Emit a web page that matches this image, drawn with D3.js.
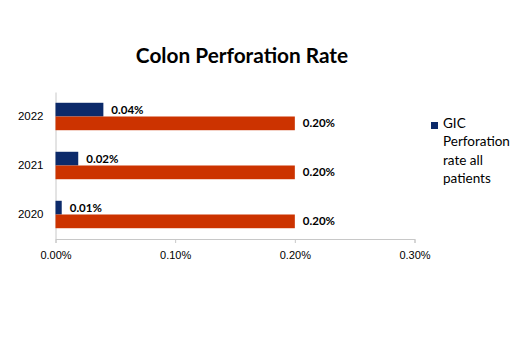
<!DOCTYPE html>
<html>
<head>
<meta charset="utf-8">
<script src="https://cdn.jsdelivr.net/npm/d3@7"></script>
<style>
  body { margin: 0; background: #fff; }
  svg { font-family: Lato, "Open Sans", sans-serif; }
  .tick text { fill: #000; }
</style>
</head>
<body>
<svg width="522" height="353"></svg>
<script>
const years = ["2022", "2021", "2020"];
const gicRate = [0.04, 0.019, 0.0052];
const allRate = [0.2, 0.2, 0.2];
const xTicks = [0, 0.1, 0.2, 0.3];
const legendLines = ["GIC", "Perforation", "rate all", "patients"];
const title = "Colon Perforation Rate";

const svg = d3.select("svg");
const width = +svg.attr("width");

const navy = "#0c2a6a";
const orange = "#cc3300";

const xScale = d3.scaleLinear().domain([0, 0.3]).range([55.5, 414.5]);

const yScale = d3.scaleBand()
  .domain(years)
  .range([92, 239])
  .paddingInner(0.44)
  .paddingOuter(0.22);

const subScale = d3.scaleBand()
  .domain(["gic", "all"])
  .range([0, yScale.bandwidth()]);

const fmt = v => d3.format(".2f")(v) + "%";

// title
svg.append("text")
  .attr("x", 242)
  .attr("y", 63)
  .attr("text-anchor", "middle")
  .attr("font-size", 20.8)
  .attr("font-weight", "bold")
  .text(title);

// axes
const xAxis = d3.axisBottom(xScale)
  .tickValues(xTicks)
  .tickSize(4)
  .tickPadding(8)
  .tickFormat(d => d3.format(".2f")(d) + "%");

const xAxisG = svg.append("g")
  .attr("transform", "translate(0,239)")
  .call(xAxis);
xAxisG.select(".domain").attr("stroke", "#c8c8c8");
xAxisG.selectAll(".tick line").attr("stroke", "#c8c8c8");
xAxisG.selectAll(".tick text").attr("font-size", 11);

const yAxis = d3.axisLeft(yScale).tickSize(0).tickPadding(12);
const yAxisG = svg.append("g")
  .attr("transform", "translate(55.5,0)")
  .call(yAxis);
yAxisG.select(".domain").attr("stroke", "#c8c8c8");
yAxisG.selectAll(".tick text").attr("font-size", 11.5);

// bars
const rows = years.map((y, i) => ({ year: y, gic: gicRate[i], all: allRate[i] }));

const series = [
  { key: "gic", color: navy },
  { key: "all", color: orange }
];

series.forEach(s => {
  svg.selectAll(".bar-" + s.key)
    .data(rows)
    .enter()
    .append("rect")
    .attr("class", "bar-" + s.key)
    .attr("x", xScale(0))
    .attr("y", d => yScale(d.year) + subScale(s.key))
    .attr("width", d => xScale(d[s.key]) - xScale(0))
    .attr("height", subScale.bandwidth())
    .attr("fill", s.color);

  svg.selectAll(".label-" + s.key)
    .data(rows)
    .enter()
    .append("text")
    .attr("class", "label-" + s.key)
    .attr("x", d => xScale(d[s.key]) + 8)
    .attr("y", d => yScale(d.year) + subScale(s.key) + subScale.bandwidth() / 2)
    .attr("dy", "0.35em")
    .attr("font-size", 11.5)
    .attr("font-weight", "bold")
    .text(d => fmt(d[s.key]));
});

// legend
const legend = svg.append("g").attr("transform", "translate(431,122)");
legend.append("rect")
  .attr("width", 7)
  .attr("height", 7)
  .attr("fill", navy);

legend.append("text")
  .attr("x", 12)
  .attr("y", 1)
  .attr("font-size", 13.5)
  .selectAll("tspan")
  .data(legendLines)
  .enter()
  .append("tspan")
  .attr("x", 12)
  .attr("dy", (d, i) => i === 0 ? "0.35em" : 18.5)
  .text(d => d);
</script>
</body>
</html>
